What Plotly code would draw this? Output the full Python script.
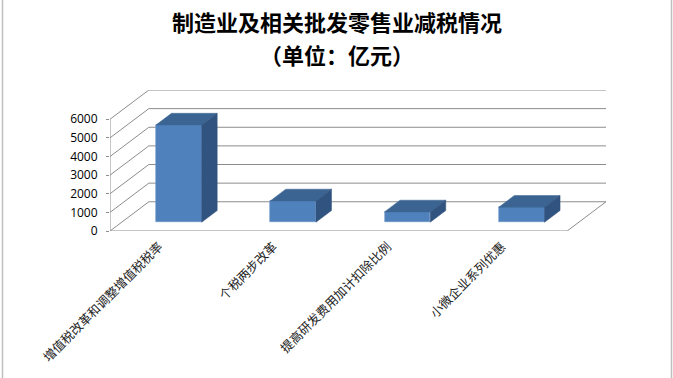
import plotly.graph_objects as go

# Tax cut amounts by policy (100 million yuan)
categories = ["增值税改革和调整增值税税率", "个税两步改革", "提高研发费用加计扣除比例", "小微企业系列优惠"]
values = [5220, 1145, 555, 805]
y_ticks = [0, 1000, 2000, 3000, 4000, 5000, 6000]

# pseudo-3D geometry (in axis units)
DX = 0.34      # horizontal depth offset of the back wall, in category units
DY = 1570      # vertical depth offset of the back wall, in value units
F1, F2 = 0.3, 0.7   # front / back depth fraction of each bar
BAR_W = 0.4
N = len(categories)
YMAX = y_ticks[-1]

GRID = "#8C8C8C"
FRONT = "#4F81BD"
TOP = "#3B6492"
SIDE = "#31537F"

PLOT_L, PLOT_W, PLOT_T, PLOT_H = 110, 496, 90, 141


def px_x(p):
    return (p - PLOT_L) / PLOT_W


def px_y(p):
    return (PLOT_T + PLOT_H - p) / PLOT_H


fig = go.Figure()

shapes = []
# left side wall: diagonals at each tick level, back wall gridlines
for v in y_ticks:
    shapes.append(dict(type="line", xref="x", yref="y", x0=0, y0=v, x1=DX, y1=v + DY,
                       line=dict(color=GRID, width=1), layer="below"))
    shapes.append(dict(type="line", xref="x", yref="y", x0=DX, y0=v + DY, x1=N + DX, y1=v + DY,
                       line=dict(color=GRID, width=1), layer="below"))
# front vertical axis line
shapes.append(dict(type="line", xref="x", yref="y", x0=0, y0=0, x1=0, y1=YMAX,
                   line=dict(color=GRID, width=1), layer="below"))
# floor: front edge and right edge
shapes.append(dict(type="line", xref="x", yref="y", x0=0, y0=0, x1=N, y1=0,
                   line=dict(color=GRID, width=1), layer="below"))
shapes.append(dict(type="line", xref="x", yref="y", x0=N, y0=0, x1=N + DX, y1=DY,
                   line=dict(color=GRID, width=1), layer="below"))
# category boundary tick marks below the floor edge
for i in range(N + 1):
    shapes.append(dict(type="line", xref="x", yref="y", xsizemode="scaled", ysizemode="pixel",
                       yanchor=0, x0=i, x1=i, y0=0, y1=-5,
                       line=dict(color=GRID, width=1), layer="below"))
# chart frame edges (left and right)
for fx in (2.5, 671.5):
    shapes.append(dict(type="line", xref="paper", yref="paper", x0=px_x(fx), x1=px_x(fx),
                       y0=px_y(378), y1=px_y(0), line=dict(color="#BFBFBF", width=1.5)))

# bars: front face as a bar trace, top and side faces as filled polygons
bx = [i + 0.5 + F1 * DX for i in range(N)]
base = F1 * DY
fig.add_trace(go.Bar(x=bx, y=values, base=[base] * N, width=BAR_W,
                     marker=dict(color=FRONT, line=dict(color="#6B95C8", width=0.6)),
                     hoverinfo="skip", showlegend=False))

ddx = (F2 - F1) * DX
ddy = (F2 - F1) * DY
for c, v in zip(bx, values):
    xl, xr = c - BAR_W / 2, c + BAR_W / 2
    top = base + v
    fig.add_trace(go.Scatter(
        x=[xl, xr, xr + ddx, xl + ddx, xl], y=[top, top, top + ddy, top + ddy, top],
        mode="lines", fill="toself", fillcolor=TOP, line=dict(color=TOP, width=0.5),
        hoverinfo="skip", showlegend=False))
    fig.add_trace(go.Scatter(
        x=[xr, xr + ddx, xr + ddx, xr, xr], y=[base, base + ddy, top + ddy, top, base],
        mode="lines", fill="toself", fillcolor=SIDE, line=dict(color=SIDE, width=0.5),
        hoverinfo="skip", showlegend=False))

fig.update_layout(
    width=673, height=378,
    margin=dict(l=PLOT_L, r=673 - PLOT_L - PLOT_W, t=PLOT_T, b=378 - PLOT_T - PLOT_H),
    paper_bgcolor="white", plot_bgcolor="white",
    shapes=shapes,
    bargap=0,
    annotations=[
        dict(text="<b>制造业及相关批发零售业减税情况</b>", xref="paper", yref="paper",
             x=px_x(337), y=px_y(21), xanchor="center", yanchor="middle",
             showarrow=False, font=dict(family="Noto Sans CJK SC", size=22, color="#000000")),
        dict(text="<b>（单位：亿元）</b>", xref="paper", yref="paper",
             x=px_x(337), y=px_y(54), xanchor="center", yanchor="middle",
             showarrow=False, font=dict(family="Noto Sans CJK SC", size=22, color="#000000")),
    ],
    xaxis=dict(range=[0, N + DX], tickmode="array", tickvals=[i + 0.43 for i in range(N)],
               ticktext=categories, tickangle=-45, ticks="", showgrid=False, zeroline=False,
               showline=False, fixedrange=True, ticklabelstandoff=5, automargin=False,
               tickfont=dict(family="Noto Sans CJK SC", size=12.5, color="#222222")),
    yaxis=dict(range=[0, YMAX + DY], tickmode="array", tickvals=y_ticks,
               ticktext=[str(t) for t in y_ticks], ticks="outside", ticklen=3,
               tickcolor=GRID, showgrid=False, zeroline=False, showline=False,
               ticklabelstandoff=6, automargin=False,
               fixedrange=True, tickfont=dict(family="Open Sans", size=12, color="#000000")),
)

fig.write_html("out.html")
